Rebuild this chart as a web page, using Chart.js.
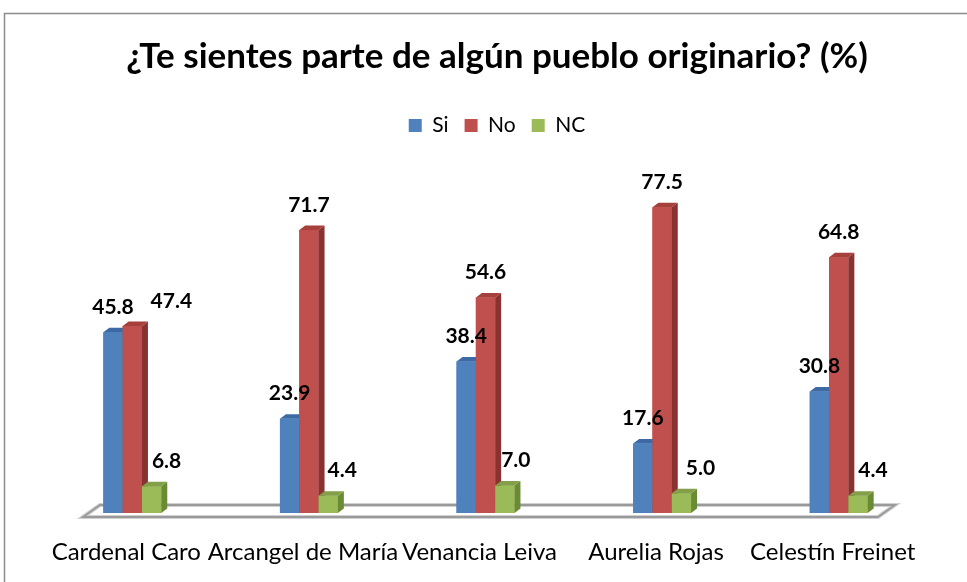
<!DOCTYPE html>
<html>
<head>
<meta charset="utf-8">
<script src="https://cdn.jsdelivr.net/npm/chart.js@4"></script>
<style>
  html, body { margin: 0; padding: 0; background: #fff; }
  #wrap { width: 967px; height: 582px; }
</style>
</head>
<body>
<div id="wrap"><canvas id="chart" width="967" height="582"></canvas></div>
<script>
// datos del gráfico
const categories = ['Cardenal Caro', 'Arcangel de María', 'Venancia Leiva', 'Aurelia Rojas', 'Celestín Freinet'];
const siValues = [45.8, 23.9, 38.4, 17.6, 30.8];
const noValues = [47.4, 71.7, 54.6, 77.5, 64.8];
const ncValues = [6.8, 4.4, 7.0, 5.0, 4.4];

const FONT = 'Lato, "Open Sans", sans-serif';

// colores: frente, lado, arriba
const faces = [
  {front: '#4F81BD', side: '#35598A', top: '#3D6AA5'},
  {front: '#C0504D', side: '#8A3230', top: '#A5403D'},
  {front: '#9BBB59', side: '#6B8A34', top: '#849F49'}
];

const DX = 6, DY = 4.5;

// marco exterior + piso
const framePlugin = {
  id: 'frame',
  beforeDraw(chart) {
    const ctx = chart.ctx;
    ctx.save();
    ctx.strokeStyle = '#8C8C8C';
    ctx.lineWidth = 1.5;
    ctx.strokeRect(4.5, 13.5, 1200, 1200);
    ctx.restore();
  },
  beforeDatasetsDraw(chart) {
    const ctx = chart.ctx;
    const area = chart.chartArea;
    const y0 = chart.scales.y.getPixelForValue(0);
    const l = area.left + 39, r = area.right - 32;
    ctx.save();
    ctx.beginPath();
    ctx.moveTo(l, y0 + 4);
    ctx.lineTo(l + 17, y0 - 8);
    ctx.lineTo(r, y0 - 8);
    ctx.lineTo(r - 17, y0 + 4);
    ctx.closePath();
    ctx.fillStyle = '#fff';
    ctx.fill();
    ctx.strokeStyle = '#D0D0D0';
    ctx.lineWidth = 4;
    ctx.stroke();
    ctx.strokeStyle = '#9A9A9A';
    ctx.lineWidth = 1.8;
    ctx.stroke();
    ctx.restore();
  }
};

// caras 3D y etiquetas de datos
const bars3dPlugin = {
  id: 'bars3d',
  afterDatasetsDraw(chart) {
    const ctx = chart.ctx;
    ctx.save();
    chart.data.datasets.forEach((ds, i) => {
      const meta = chart.getDatasetMeta(i);
      meta.data.forEach(bar => {
        bar.draw(ctx);
        const {x, y, base, width} = bar.getProps(['x', 'y', 'base', 'width'], true);
        const left = x - width / 2, right = x + width / 2;
        // lado
        ctx.beginPath();
        ctx.moveTo(right, y);
        ctx.lineTo(right + DX, y - DY);
        ctx.lineTo(right + DX, base - DY);
        ctx.lineTo(right, base);
        ctx.closePath();
        ctx.fillStyle = faces[i].side;
        ctx.fill();
        // arriba
        ctx.beginPath();
        ctx.moveTo(left, y);
        ctx.lineTo(left + DX, y - DY);
        ctx.lineTo(right + DX, y - DY);
        ctx.lineTo(right, y);
        ctx.closePath();
        ctx.fillStyle = faces[i].top;
        ctx.fill();
      });
    });
    // etiquetas
    const labelShift = [[0, 0, 0, 0, 0], [39, 0, 0, 0, 0], [15, 14, 11, 19, 15]];
    ctx.font = 'bold 21px ' + FONT;
    ctx.fillStyle = '#000';
    ctx.textAlign = 'center';
    ctx.textBaseline = 'middle';
    chart.data.datasets.forEach((ds, i) => {
      const meta = chart.getDatasetMeta(i);
      meta.data.forEach((bar, j) => {
        const {x, y} = bar.getProps(['x', 'y'], true);
        ctx.fillText(ds.data[j].toFixed(1), x + labelShift[i][j], y - 25);
      });
    });
    ctx.restore();
  }
};

new Chart(document.getElementById('chart'), {
  type: 'bar',
  data: {
    labels: categories,
    datasets: [
      {label: 'Si', data: siValues, backgroundColor: faces[0].front},
      {label: 'No', data: noValues, backgroundColor: faces[1].front},
      {label: 'NC', data: ncValues, backgroundColor: faces[2].front}
    ]
  },
  options: {
    responsive: false,
    animation: false,
    events: [],
    layout: {padding: {left: 44, right: 17, top: 36, bottom: 15}},
    datasets: {
      bar: {categoryPercentage: 0.328, barPercentage: 1.0}
    },
    plugins: {
      title: {
        display: true,
        text: '¿Te sientes parte de algún pueblo originario? (%)',
        color: '#000',
        font: {family: FONT, size: 35, weight: 'bold'},
        padding: {top: 0, bottom: 21}
      },
      legend: {
        display: true,
        position: 'top',
        labels: {
          color: '#000',
          font: {family: FONT, size: 21},
          boxWidth: 13,
          boxHeight: 13,
          padding: 16
        }
      },
      tooltip: {enabled: false}
    },
    scales: {
      x: {
        grid: {display: false, drawTicks: false},
        border: {display: false},
        ticks: {
          color: '#000',
          font: {family: FONT, size: 24},
          padding: 25,
          labelOffset: -6,
          maxRotation: 0,
          autoSkip: false
        },
        afterFit(scale) { scale.height = 54; }
      },
      y: {
        display: false,
        min: 0,
        max: 93
      },
      // eje vacío a la derecha, sólo para reservar espacio
      y2: {
        position: 'right',
        display: true,
        grid: {display: false},
        border: {display: false},
        ticks: {display: false},
        afterFit(scale) { scale.width = 23; }
      }
    }
  },
  plugins: [framePlugin, bars3dPlugin]
});
</script>
</body>
</html>
